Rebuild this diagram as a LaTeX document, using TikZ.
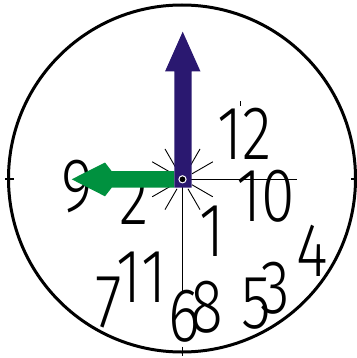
\documentclass[tikz,border=0pt]{standalone}
\usepackage{fontspec}
\usetikzlibrary{calc}
\newfontfamily\dg{Fira Sans Light}
\definecolor{handblue}{RGB}{42,24,112}
\definecolor{handgreen}{RGB}{0,145,63}
\begin{document}
\begin{tikzpicture}[x=1pt,y=-1pt,
  num/.style={inner sep=0pt, font=\dg\fontsize{76}{76}\selectfont, xscale=0.8},
  thin line/.style={line width=0.9pt, black},
  rim/.style={line width=3pt, black},
  tickmark/.style={line width=1.4pt, black}]
\useasboundingbox (0,0) rectangle (356,358);
\coordinate (c) at (182.5,179.3);
% dial
\draw[rim] (182,178.5) circle (173.5);
\draw[tickmark] (5,179) -- (13.5,179);
\draw[tickmark] (351,179) -- (357,179);
\draw[tickmark] (182.5,346.5) -- (182.5,356);
% cross lines
\draw[thin line] (c) -- (297,179.3);
\draw[thin line] (c) -- (182.5,293);
% starburst
\foreach \a in {30,60,120,150,210,240,300,330}
  \draw[thin line] ($(c)+({cos(\a)*11},{-sin(\a)*11})$) -- ($(c)+({cos(\a)*35},{-sin(\a)*35})$);
% numbers
\node[num] (n12) at (245,134) {12};
\draw[thin line, line width=1.2pt] (240.7,101.5) -- (240.7,106.5);
\node[num] (n10) at (265.5,196) {10};
\node[num] (n9) at (77.5,186.5) {9};
\node[num] (n2) at (134,199) {2};
\node[num] (n1) at (212,231) {1};
\node[num] (n4) at (312.5,251) {4};
\node[num] (n11) at (141.5,277.5) {11};
\node[num] (n7) at (109,303) {7};
\node[num] (n6) at (184,316.5) {6};
\node[num] (n8) at (206.5,307) {8};
\node[num] (n5) at (256,304) {5};
\node[num] (n3) at (275,288.5) {3};
% hands
\fill[handgreen] (174.3,171.2) -- (111.7,171.2) -- (105,162.5) -- (71.7,179.3)
  -- (105,196.3) -- (111.7,187.7) -- (174.3,187.7) -- cycle;
\fill[handblue] (174.3,187.7) -- (174.3,71.5) -- (165,71.5) -- (182.7,31.7)
  -- (200.5,71.5) -- (191.7,71.5) -- (191.7,187.7) -- cycle;
\fill[black] (c) circle (3);
\draw[white, line width=1pt] (c) circle (3.6);
\end{tikzpicture}
\end{document}
